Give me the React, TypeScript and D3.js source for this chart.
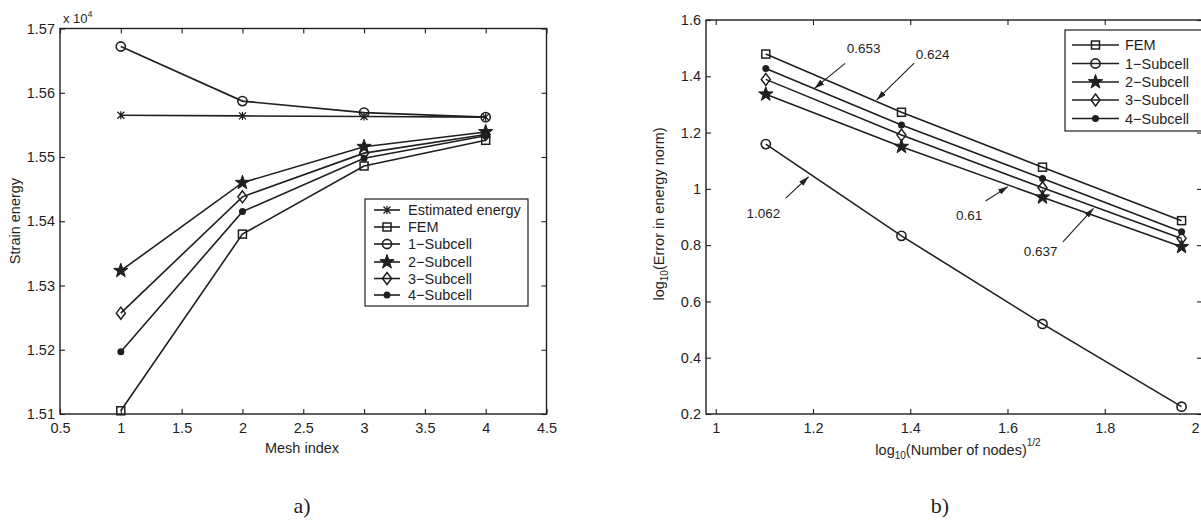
import React, { useEffect, useRef } from 'react';
import * as d3 from 'd3';

// ---- panel a) strain energy vs mesh index (values in x 10^4)
const meshIndex = [1, 2, 3, 4];
const estimatedA = [1.5565, 1.5564, 1.5563, 1.5562];
const femA = [1.5105, 1.538, 1.5486, 1.5526];
const sub1A = [1.5672, 1.5587, 1.5569, 1.5562];
const sub2A = [1.5323, 1.546, 1.5516, 1.5539];
const sub3A = [1.5257, 1.5438, 1.5506, 1.5535];
const sub4A = [1.5197, 1.5415, 1.5498, 1.5533];
const xTicksA = [0.5, 1, 1.5, 2, 2.5, 3, 3.5, 4, 4.5];
const yTicksA = [1.51, 1.52, 1.53, 1.54, 1.55, 1.56, 1.57];

// ---- panel b) convergence, log10 error vs log10 sqrt(nodes)
const logNodes = [1.103, 1.382, 1.672, 1.958];
const femB = [1.479, 1.272, 1.077, 0.887];
const sub1B = [1.159, 0.833, 0.52, 0.226];
const sub2B = [1.336, 1.15, 0.97, 0.794];
const sub3B = [1.389, 1.191, 1.004, 0.824];
const sub4B = [1.428, 1.227, 1.037, 0.848];
const xTicksB = [1, 1.2, 1.4, 1.6, 1.8, 2];
const yTicksB = [0.2, 0.4, 0.6, 0.8, 1, 1.2, 1.4, 1.6];

// slope annotations: label position, arrow tail, arrow tip (data units)
const slopeLabels = ['0.653', '0.624', '1.062', '0.61', '0.637'];
const labelPos = [[1.304, 1.5], [1.446, 1.479], [1.098, 0.914], [1.521, 0.907], [1.668, 0.777]];
const arrowTail = [[1.266, 1.446], [1.408, 1.447], [1.144, 0.967], [1.555, 0.957], [1.714, 0.812]];
const arrowTip = [[1.203, 1.357], [1.331, 1.316], [1.191, 1.043], [1.601, 1.008], [1.777, 0.931]];

const FONT = '"Liberation Sans", Arial, Helvetica, sans-serif';
const INK = '#1f1f1f';
const FS = 14.5;

function marker(g, type, cx, cy) {
    if (type === 'x') {
        g.append('path')
            .attr('d', `M${cx - 3.5},${cy - 3.5}L${cx + 3.5},${cy + 3.5}M${cx - 3.5},${cy + 3.5}L${cx + 3.5},${cy - 3.5}M${cx},${cy - 4}L${cx},${cy + 4}`)
            .attr('stroke', INK).attr('stroke-width', 1.3).attr('fill', 'none');
    } else if (type === 'square') {
        g.append('rect').attr('x', cx - 4).attr('y', cy - 4).attr('width', 8).attr('height', 8)
            .attr('stroke', INK).attr('stroke-width', 1.5).attr('fill', 'none');
    } else if (type === 'circle') {
        g.append('circle').attr('cx', cx).attr('cy', cy).attr('r', 4.6)
            .attr('stroke', INK).attr('stroke-width', 1.6).attr('fill', 'none');
    } else if (type === 'star') {
        const pts = d3.range(10).map(i => {
            const r = i % 2 === 0 ? 7.5 : 3;
            const a = -Math.PI / 2 + i * Math.PI / 5;
            return [cx + r * Math.cos(a), cy + r * Math.sin(a)];
        });
        g.append('path').attr('d', 'M' + pts.join('L') + 'Z')
            .attr('stroke', INK).attr('stroke-width', 1).attr('fill', INK);
    } else if (type === 'diamond') {
        g.append('path').attr('d', `M${cx},${cy - 6}L${cx + 4.5},${cy}L${cx},${cy + 6}L${cx - 4.5},${cy}Z`)
            .attr('stroke', INK).attr('stroke-width', 1.5).attr('fill', 'none');
    } else if (type === 'dot') {
        g.append('circle').attr('cx', cx).attr('cy', cy).attr('r', 3.5).attr('fill', INK);
    }
}

function drawAxes(svg, x, y, xt, yt, fx, fy) {
    const [x0, x1] = x.range();
    const [y0, y1] = y.range();
    const style = (g) => {
        g.attr('font-family', FONT).attr('font-size', FS);
        g.select('.domain').remove();
        g.selectAll('line').attr('stroke', INK).attr('stroke-width', 1.1);
        g.selectAll('text').attr('fill', INK);
    };
    const bottom = svg.append('g').attr('transform', `translate(0,${y0})`)
        .call(d3.axisBottom(x).tickValues(xt).tickSize(-5).tickSizeOuter(0).tickPadding(9).tickFormat(fx)).call(style);
    svg.append('g').attr('transform', `translate(0,${y1})`)
        .call(d3.axisTop(x).tickValues(xt).tickSize(-5).tickSizeOuter(0).tickFormat(() => '')).call(style);
    svg.append('g').attr('transform', `translate(${x0},0)`)
        .call(d3.axisLeft(y).tickValues(yt).tickSize(-5).tickSizeOuter(0).tickPadding(5).tickFormat(fy)).call(style);
    svg.append('g').attr('transform', `translate(${x1},0)`)
        .call(d3.axisRight(y).tickValues(yt).tickSize(-5).tickSizeOuter(0).tickFormat(() => '')).call(style);
    svg.append('rect').attr('x', x0).attr('y', y1).attr('width', x1 - x0).attr('height', y0 - y1)
        .attr('fill', 'none').attr('stroke', INK).attr('stroke-width', 1.4);
    return bottom;
}

function drawSeries(svg, x, y, xs, series) {
    const line = d3.line().x((d) => x(d[0])).y((d) => y(d[1]));
    series.forEach(s => {
        const pts = xs.map((v, i) => [v, s.values[i]]);
        svg.append('path').attr('d', line(pts)).attr('fill', 'none')
            .attr('stroke', INK).attr('stroke-width', 1.6);
        pts.forEach(p => marker(svg, s.marker, x(p[0]), y(p[1])));
    });
}

function drawLegend(svg, series, box, rowY, lineX, textX) {
    svg.append('rect').attr('x', box[0]).attr('y', box[1]).attr('width', box[2]).attr('height', box[3])
        .attr('fill', 'white').attr('stroke', INK).attr('stroke-width', 1.2);
    series.forEach((s, i) => {
        const yy = rowY[i];
        svg.append('line').attr('x1', lineX[0]).attr('x2', lineX[1]).attr('y1', yy).attr('y2', yy)
            .attr('stroke', INK).attr('stroke-width', 1.6);
        marker(svg, s.marker, (lineX[0] + lineX[1]) / 2, yy);
        svg.append('text').attr('x', textX).attr('y', yy).attr('dy', '0.36em')
            .attr('font-family', FONT).attr('font-size', FS).attr('fill', INK).text(s.name);
    });
}

export default function App() {
    const ref = useRef(null);

    useEffect(() => {
        const svg = d3.select(ref.current);
        svg.selectAll('*').remove();

        // ---------- panel a
        const xA = d3.scaleLinear().domain([0.5, 4.5]).range([60, 546.5]);
        const yA = d3.scaleLinear().domain([1.51, 1.57]).range([414, 28.5]);
        drawAxes(svg, xA, yA, xTicksA, yTicksA, d3.format(''), d3.format('.2f'));
        const seriesA = [
            { name: 'Estimated energy', values: estimatedA, marker: 'x' },
            { name: 'FEM', values: femA, marker: 'square' },
            { name: '1\u2212Subcell', values: sub1A, marker: 'circle' },
            { name: '2\u2212Subcell', values: sub2A, marker: 'star' },
            { name: '3\u2212Subcell', values: sub3A, marker: 'diamond' },
            { name: '4\u2212Subcell', values: sub4A, marker: 'dot' },
        ];
        drawSeries(svg, xA, yA, meshIndex, seriesA);
        drawLegend(svg, seriesA, [365, 199, 163, 107], [210, 227, 244, 262, 278.5, 295], [374, 400], 408);

        const exp = svg.append('text').attr('x', 63).attr('y', 23).attr('font-family', FONT)
            .attr('font-size', 13).attr('fill', INK);
        exp.append('tspan').text('x 10');
        exp.append('tspan').attr('font-size', 9).attr('dy', -6).text('4');

        svg.append('text').attr('transform', 'translate(20,221) rotate(-90)').attr('text-anchor', 'middle')
            .attr('font-family', FONT).attr('font-size', FS).attr('fill', INK).text('Strain energy');
        svg.append('text').attr('x', 302).attr('y', 453).attr('text-anchor', 'middle')
            .attr('font-family', FONT).attr('font-size', FS).attr('fill', INK).text('Mesh index');

        // ---------- panel b
        const xB = d3.scaleLinear().domain([0.98, 2]).range([706, 1202]);
        const yB = d3.scaleLinear().domain([0.2, 1.6]).range([414, 20]);
        const bottomB = drawAxes(svg, xB, yB, xTicksB, yTicksB, d3.format(''), d3.format(''));
        // keep the last tick label inside the page
        bottomB.selectAll('.tick text').filter((d) => d === 2).attr('text-anchor', 'end').attr('dx', -3);
        const seriesB = [
            { name: 'FEM', values: femB, marker: 'square' },
            { name: '1\u2212Subcell', values: sub1B, marker: 'circle' },
            { name: '2\u2212Subcell', values: sub2B, marker: 'star' },
            { name: '3\u2212Subcell', values: sub3B, marker: 'diamond' },
            { name: '4\u2212Subcell', values: sub4B, marker: 'dot' },
        ];
        drawSeries(svg, xB, yB, logNodes, seriesB);
        drawLegend(svg, seriesB, [1065, 30, 150, 101], [45, 63.5, 82, 100, 118.5], [1072, 1119], 1125);

        // arrows with slope values
        svg.append('defs').append('marker').attr('id', 'arr').attr('markerUnits', 'userSpaceOnUse')
            .attr('markerWidth', 10).attr('markerHeight', 6).attr('refX', 10).attr('refY', 3)
            .attr('orient', 'auto')
            .append('path').attr('d', 'M0,0L10,3L0,6Z').attr('fill', INK);
        slopeLabels.forEach((lab, i) => {
            svg.append('line')
                .attr('x1', xB(arrowTail[i][0])).attr('y1', yB(arrowTail[i][1]))
                .attr('x2', xB(arrowTip[i][0])).attr('y2', yB(arrowTip[i][1]))
                .attr('stroke', INK).attr('stroke-width', 1.1).attr('marker-end', 'url(#arr)');
            svg.append('text').attr('x', xB(labelPos[i][0])).attr('y', yB(labelPos[i][1])).attr('dy', '0.36em')
                .attr('text-anchor', 'middle').attr('font-family', FONT).attr('font-size', 13.5)
                .attr('fill', INK).text(lab);
        });

        const yl = svg.append('text').attr('transform', 'translate(664,214) rotate(-90)')
            .attr('text-anchor', 'middle').attr('font-family', FONT).attr('font-size', FS).attr('fill', INK);
        yl.append('tspan').text('log');
        yl.append('tspan').attr('font-size', 10).attr('dy', 4).text('10');
        yl.append('tspan').attr('dy', -4).text('(Error in energy norm)');

        const xl = svg.append('text').attr('x', 958).attr('y', 455).attr('text-anchor', 'middle')
            .attr('font-family', FONT).attr('font-size', FS).attr('fill', INK);
        xl.append('tspan').text('log');
        xl.append('tspan').attr('font-size', 10).attr('dy', 4).text('10');
        xl.append('tspan').attr('dy', -4).text('(Number of nodes)');
        xl.append('tspan').attr('font-size', 10).attr('dy', -9).text('1/2');

        // captions
        svg.append('text').attr('x', 302).attr('y', 513).attr('text-anchor', 'middle')
            .attr('font-family', '"Liberation Serif", "Times New Roman", serif').attr('font-size', 22)
            .attr('fill', INK).text('a)');
        svg.append('text').attr('x', 940).attr('y', 513).attr('text-anchor', 'middle')
            .attr('font-family', '"Liberation Serif", "Times New Roman", serif').attr('font-size', 22)
            .attr('fill', INK).text('b)');
    }, []);

    return (
        <svg ref={ref} width={1201} height={531}
            style={{ position: 'absolute', left: 0, top: 0, background: 'white' }} />
    );
}
